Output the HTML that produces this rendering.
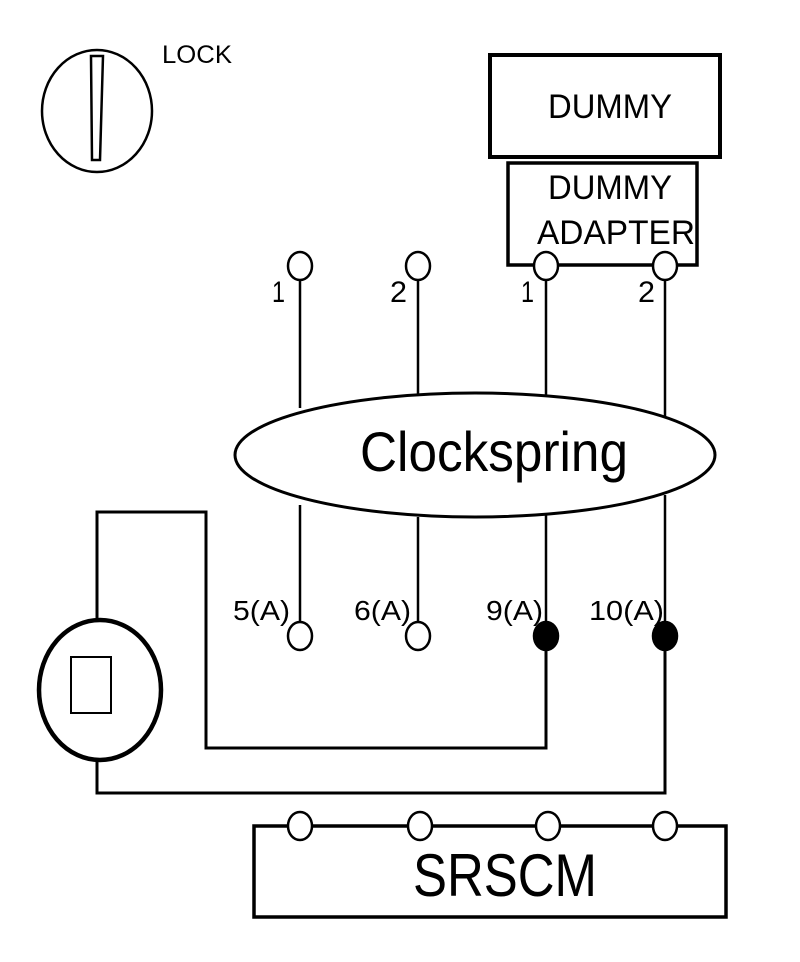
<!DOCTYPE html>
<html><head><style>
html,body{margin:0;padding:0;background:#fff;}
svg{display:block;}
text{font-family:"Liberation Sans",sans-serif;fill:#000;}
</style></head><body>
<svg width="800" height="962" viewBox="0 0 800 962" xmlns="http://www.w3.org/2000/svg">
<g fill="none" stroke="#000" stroke-width="3">
<ellipse cx="97" cy="111" rx="55" ry="61" stroke-width="2.5"/>
<polygon points="91,56 103,56 100,160 92,160" stroke-width="2.5"/>
<rect x="490" y="55" width="230" height="102" stroke-width="4"/>
<rect x="508" y="163" width="189" height="102" stroke-width="3.5"/>
<line x1="300" y1="278" x2="300" y2="408" stroke-width="2.5"/>
<line x1="418" y1="278" x2="418" y2="395" stroke-width="2.5"/>
<line x1="546" y1="278" x2="546" y2="395" stroke-width="2.5"/>
<line x1="665" y1="278" x2="665" y2="418" stroke-width="2.5"/>
<line x1="300" y1="505" x2="300" y2="623" stroke-width="2.5"/>
<line x1="418" y1="517" x2="418" y2="623" stroke-width="2.5"/>
<line x1="546" y1="515" x2="546" y2="623" stroke-width="2.5"/>
<line x1="665" y1="495" x2="665" y2="623" stroke-width="2.5"/>
<ellipse cx="475" cy="455" rx="240" ry="62"/>
<ellipse cx="100" cy="690" rx="61" ry="70" stroke-width="4.5"/>
<rect x="71" y="657" width="40" height="56" stroke-width="2"/>
<polyline points="97,620 97,512 206,512 206,748 546,748 546,648"/>
<polyline points="97,760 97,793 665,793 665,648"/>
<rect x="254" y="826" width="472" height="91" stroke-width="3.5"/>
</g>
<g stroke="#000" stroke-width="2.5" fill="#fff">
<ellipse cx="300" cy="266" rx="12" ry="14"/>
<ellipse cx="418" cy="266" rx="12" ry="14"/>
<ellipse cx="546" cy="266" rx="12" ry="14"/>
<ellipse cx="665" cy="266" rx="12" ry="14"/>
<ellipse cx="300" cy="636" rx="12" ry="14"/>
<ellipse cx="418" cy="636" rx="12" ry="14"/>
<ellipse cx="546" cy="636" rx="12" ry="14" fill="#000"/>
<ellipse cx="665" cy="636" rx="12" ry="14" fill="#000"/>
<ellipse cx="300" cy="826" rx="12" ry="14"/>
<ellipse cx="420" cy="826" rx="12" ry="14"/>
<ellipse cx="548" cy="826" rx="12" ry="14"/>
<ellipse cx="665" cy="826" rx="12" ry="14"/>
</g>
<text x="162" y="63" font-size="25" textLength="70" lengthAdjust="spacingAndGlyphs">LOCK</text>
<text x="548" y="118" font-size="34" textLength="124" lengthAdjust="spacingAndGlyphs">DUMMY</text>
<text x="548" y="199" font-size="34" textLength="124" lengthAdjust="spacingAndGlyphs">DUMMY</text>
<text x="537" y="244" font-size="34" textLength="158" lengthAdjust="spacingAndGlyphs">ADAPTER</text>
<text x="272" y="302" font-size="30" textLength="13" lengthAdjust="spacingAndGlyphs">1</text>
<text x="390" y="302" font-size="30" textLength="17" lengthAdjust="spacingAndGlyphs">2</text>
<text x="521" y="302" font-size="30" textLength="13" lengthAdjust="spacingAndGlyphs">1</text>
<text x="638" y="302" font-size="30" textLength="17" lengthAdjust="spacingAndGlyphs">2</text>
<text x="360" y="471" font-size="56" textLength="268" lengthAdjust="spacingAndGlyphs">Clockspring</text>
<text x="233" y="620" font-size="28" textLength="57" lengthAdjust="spacingAndGlyphs">5(A)</text>
<text x="354" y="620" font-size="28" textLength="57" lengthAdjust="spacingAndGlyphs">6(A)</text>
<text x="486" y="620" font-size="28" textLength="57" lengthAdjust="spacingAndGlyphs">9(A)</text>
<text x="589" y="620" font-size="28" textLength="75" lengthAdjust="spacingAndGlyphs">10(A)</text>
<text x="413" y="896" font-size="60" textLength="184" lengthAdjust="spacingAndGlyphs">SRSCM</text>
</svg>
</body></html>
